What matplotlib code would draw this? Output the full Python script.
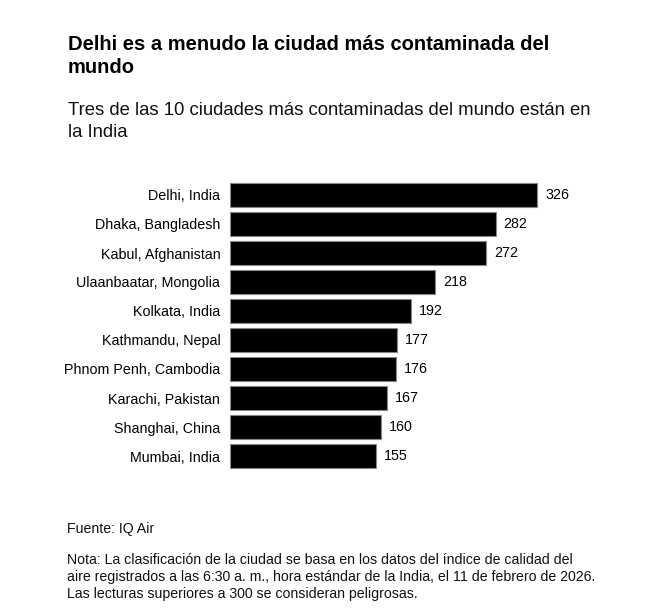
import matplotlib
matplotlib.use("Agg")
import matplotlib.pyplot as plt

cities = ["Delhi, India", "Dhaka, Bangladesh", "Kabul, Afghanistan",
          "Ulaanbaatar, Mongolia", "Kolkata, India", "Kathmandu, Nepal",
          "Phnom Penh, Cambodia", "Karachi, Pakistan", "Shanghai, China",
          "Mumbai, India"]
aqi = [326, 282, 272, 218, 192, 177, 176, 167, 160, 155]

title_lines = ["Delhi es a menudo la ciudad más contaminada del", "mundo"]
subtitle_lines = ["Tres de las 10 ciudades más contaminadas del mundo están en", "la India"]
source = "Fuente: IQ Air"
note_lines = ["Nota: La clasificación de la ciudad se basa en los datos del índice de calidad del",
              "aire registrados a las 6:30 a. m., hora estándar de la India, el 11 de febrero de 2026.",
              "Las lecturas superiores a 300 se consideran peligrosas."]

plt.rcParams['font.family'] = ['Liberation Sans', 'DejaVu Sans']

W, H = 651, 610
fig = plt.figure(figsize=(W / 100, H / 100), dpi=100)
fig.patch.set_facecolor("white")

def fy(py):
    return 1 - py / H

# axes in pixel coords
ax_left, ax_top, ax_w, ax_h = 230, 180.5, 380, 290
ax = fig.add_axes([ax_left / W, fy(ax_top + ax_h), ax_w / W, ax_h / H])
px_per_unit = 0.942
ax.set_xlim(0, ax_w / px_per_unit)
ax.set_ylim(len(cities) - 0.5, -0.5)

ypos = list(range(len(cities)))
ax.barh(ypos, aqi, height=0.83, color="black", edgecolor="#888888", linewidth=0.8)
for y, v in zip(ypos, aqi):
    ax.text(v + 8.5, y, str(v), va="center", ha="left", fontsize=10.3, color="black")

ax.set_yticks(ypos)
ax.set_yticklabels(cities, fontsize=10.3)
ax.tick_params(axis="y", length=0, pad=7)
ax.set_xticks([])
for s in ax.spines.values():
    s.set_visible(False)

for line, by in zip(title_lines, [50, 73]):
    fig.text(68 / W, fy(by), line, fontsize=14.5, fontweight="bold",
             va="baseline", ha="left", color="black")
for line, by in zip(subtitle_lines, [115, 137]):
    fig.text(68 / W, fy(by), line, fontsize=13.3, va="baseline", ha="left",
             color="#111111")
fig.text(67 / W, fy(533), source, fontsize=10.2, va="baseline", ha="left", color="#111111")
for line, by in zip(note_lines, [564, 581, 598]):
    fig.text(67 / W, fy(by), line, fontsize=10.2, va="baseline", ha="left",
             color="#111111")

fig.savefig("out.png", dpi=100)
